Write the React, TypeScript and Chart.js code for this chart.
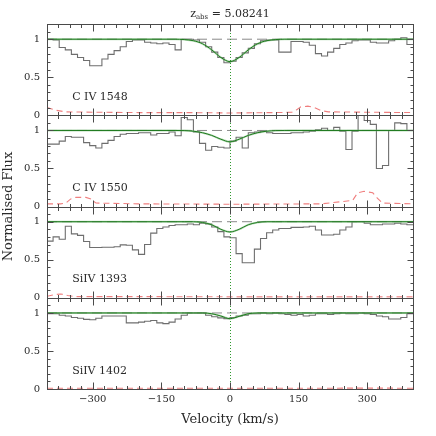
import React, { useEffect, useRef } from 'react';
import { Chart, registerables } from 'chart.js';

Chart.register(...registerables);

const Z_ABS = '5.08241';
const X_TITLE = 'Velocity (km/s)';
const Y_TITLE = 'Normalised Flux';
const X_TICKS = [-300, -150, 0, 150, 300];
const Y_TICKS = [0, 0.5, 1];
const PANEL_LABELS = ['C IV 1548', 'C IV 1550', 'SiIV 1393', 'SiIV 1402'];

// histogram bin edges (km/s)
const BIN_EDGES = [
  -400, -386.7, -373.3, -360, -346.7, -333.3, -320, -306.7, -293.3, -280,
  -266.7, -253.3, -240, -226.7, -213.3, -200, -186.7, -173.3, -160, -146.7,
  -133.3, -120, -106.7, -93.3, -80, -66.7, -53.3, -40, -26.7, -13.3,
  0, 13.3, 26.7, 40, 53.3, 66.7, 80, 93.3, 106.7, 120,
  133.3, 146.7, 160, 173.3, 186.7, 200, 213.3, 226.7, 240, 253.3,
  266.7, 280, 293.3, 306.7, 320, 333.3, 346.7, 360, 373.3, 386.7, 400,
];

const FLUX_CIV1548 = [
  1.0, 0.99, 0.89, 0.86, 0.80, 0.76, 0.72, 0.65, 0.65, 0.74,
  0.80, 0.85, 0.90, 0.97, 0.99, 0.99, 0.96, 0.95, 0.94, 0.95,
  0.93, 0.86, 1.0, 1.0, 0.99, 0.96, 0.90, 0.83, 0.76, 0.69,
  0.71, 0.76, 0.82, 0.88, 0.94, 0.98, 0.99, 0.99, 0.83, 0.83,
  0.97, 0.97, 0.96, 0.92, 0.81, 0.78, 0.83, 0.88, 0.93, 0.95,
  0.98, 0.99, 0.99, 0.96, 0.95, 0.95, 0.98, 1.0, 1.02, 0.93,
];
const FLUX_CIV1550 = [
  0.82, 0.82, 0.86, 0.92, 0.91, 0.91, 0.84, 0.80, 0.77, 0.83,
  0.87, 0.92, 0.95, 0.96, 0.96, 0.97, 0.97, 0.94, 0.96, 0.96,
  0.98, 0.93, 1.17, 1.14, 0.98, 0.83, 0.74, 0.79, 0.78, 0.77,
  0.86, 0.91, 0.77, 0.97, 0.98, 0.99, 0.97, 0.96, 0.96, 0.96,
  0.97, 0.97, 0.98, 0.99, 1.01, 1.03, 1.00, 1.04, 0.99, 0.75,
  0.99, 1.23, 1.13, 1.08, 0.50, 0.54, 1.00, 1.10, 1.09, 1.00,
];
const FLUX_SIIV1393 = [
  0.745, 0.80, 0.77, 0.94, 0.84, 0.82, 0.74, 0.66, 0.66, 0.665,
  0.665, 0.67, 0.695, 0.69, 0.63, 0.57, 0.70, 0.85, 0.91, 0.93,
  0.95, 0.96, 0.96, 0.97, 0.96, 0.98, 0.97, 0.93, 0.87, 0.80,
  0.79, 0.58, 0.46, 0.46, 0.64, 0.78, 0.855, 0.89, 0.91, 0.91,
  0.925, 0.925, 0.93, 0.94, 0.89, 0.825, 0.825, 0.835, 0.89, 0.93,
  1.0, 1.0, 0.98, 0.96, 0.96, 0.97, 0.97, 0.98, 0.97, 0.96,
];
const FLUX_SIIV1402 = [
  0.99, 0.99, 0.97, 0.96, 0.94, 0.93, 0.915, 0.91, 0.93, 0.96,
  0.96, 0.96, 0.96, 0.87, 0.87, 0.88, 0.89, 0.90, 0.87, 0.86,
  0.88, 0.92, 0.97, 1.0, 1.0, 1.0, 0.97, 0.95, 0.935, 0.925,
  0.94, 0.96, 0.97, 0.99, 0.99, 1.0, 0.99, 1.0, 0.99, 0.98,
  0.97, 0.98, 0.96, 0.97, 0.99, 0.99, 0.98, 0.99, 1.0, 0.99,
  0.99, 1.0, 0.99, 0.98, 0.96, 0.95, 0.92, 0.92, 0.94, 0.99,
];

// fitted model profiles
const MODEL_V = [-400, -120, -100, -80, -60, -40, -20, 0, 20, 40, 60, 80, 100, 120, 400];
const MODEL_CIV1548 = [1, 1, 0.995, 0.98, 0.94, 0.86, 0.76, 0.705, 0.76, 0.86, 0.94, 0.98, 0.995, 1, 1];
const MODEL_CIV1550 = [1, 1, 0.998, 0.99, 0.97, 0.935, 0.885, 0.85, 0.885, 0.935, 0.97, 0.99, 0.998, 1, 1];
const MODEL_SIIV1393 = [1, 1, 1, 1, 0.99, 0.96, 0.9, 0.865, 0.9, 0.96, 0.99, 1, 1, 1, 1];
const MODEL_SIIV1402 = [1, 1, 1, 1, 1, 0.99, 0.96, 0.925, 0.955, 0.99, 1, 1, 1, 1, 1];

// error spectra
const ERR_V_CIV1548 = [-400, -380, -360, -300, -200, -100, 0, 100, 135, 145, 155, 170, 185, 200, 215, 300, 400];
const ERR_CIV1548 = [0.10, 0.065, 0.045, 0.04, 0.035, 0.035, 0.03, 0.035, 0.04, 0.07, 0.11, 0.12, 0.10, 0.06, 0.045, 0.04, 0.035];
const ERR_V_CIV1550 = [-400, -370, -359, -348, -337, -315, -304, -293, -200, 0, 200, 268, 279, 293, 312, 322, 333, 400];
const ERR_CIV1550 = [0.035, 0.035, 0.045, 0.10, 0.12, 0.12, 0.10, 0.045, 0.035, 0.03, 0.035, 0.08, 0.18, 0.20, 0.18, 0.11, 0.045, 0.035];
const ERR_V_SIIV1393 = [-400, -385, -370, -355, -340, -200, 0, 200, 400];
const ERR_SIIV1393 = [0.02, 0.04, 0.05, 0.03, 0.015, 0.015, 0.012, 0.012, 0.012];
const ERR_V_SIIV1402 = [-400, -200, 0, 200, 300, 400];
const ERR_SIIV1402 = [0.01, 0.01, 0.01, 0.01, 0.012, 0.01];

const CONTINUUM = 1;

const PANELS = [
  { id: 'y1', label: PANEL_LABELS[0], flux: FLUX_CIV1548, model: MODEL_CIV1548, errV: ERR_V_CIV1548, err: ERR_CIV1548, weight: 4 },
  { id: 'y2', label: PANEL_LABELS[1], flux: FLUX_CIV1550, model: MODEL_CIV1550, errV: ERR_V_CIV1550, err: ERR_CIV1550, weight: 3 },
  { id: 'y3', label: PANEL_LABELS[2], flux: FLUX_SIIV1393, model: MODEL_SIIV1393, errV: ERR_V_SIIV1393, err: ERR_SIIV1393, weight: 2 },
  { id: 'y4', label: PANEL_LABELS[3], flux: FLUX_SIIV1402, model: MODEL_SIIV1402, errV: ERR_V_SIIV1402, err: ERR_SIIV1402, weight: 1 },
];

const SERIF = '"DejaVu Serif", serif';
const TEXT = '#2a2a2a';

const decorPlugin = {
  id: 'panelDecor',
  afterDatasetsDraw(chart: any) {
    const ctx = chart.ctx as CanvasRenderingContext2D;
    const xs = chart.scales.x;
    const area = chart.chartArea;
    ctx.save();
    const line = (x1: number, y1: number, x2: number, y2: number) => {
      ctx.beginPath();
      ctx.moveTo(x1, y1);
      ctx.lineTo(x2, y2);
      ctx.stroke();
    };
    // zero-velocity dotted line
    const x0 = Math.round(xs.getPixelForValue(0)) + 0.5;
    ctx.strokeStyle = '#2e9a2e';
    ctx.lineWidth = 1;
    ctx.setLineDash([1, 2]);
    line(x0, area.top, x0, area.bottom);
    ctx.setLineDash([]);

    PANELS.forEach((p) => {
      const ys = chart.scales[p.id];
      const top = Math.round(ys.top) + 0.5;
      const bottom = Math.round(ys.bottom) + 0.5;
      const left = Math.round(xs.left) + 0.5;
      const right = Math.round(xs.right) + 0.5;
      ctx.strokeStyle = '#4a4a4a';
      ctx.lineWidth = 1;
      ctx.strokeRect(left, top, right - left, bottom - top);
      for (let v = -375; v <= 375; v += 25) {
        const px = Math.round(xs.getPixelForValue(v)) + 0.5;
        const len = X_TICKS.includes(v) ? 7 : 3.5;
        line(px, top, px, top + len);
        line(px, bottom, px, bottom - len);
      }
      for (let k = 1; k <= 11; k++) {
        const py = Math.round(ys.getPixelForValue(k / 10)) + 0.5;
        const len = k === 5 || k === 10 ? 6 : 3;
        line(left, py, left + len, py);
        line(right, py, right - len, py);
      }
      ctx.fillStyle = TEXT;
      ctx.font = '11px ' + SERIF;
      ctx.textAlign = 'left';
      ctx.textBaseline = 'middle';
      ctx.fillText(p.label, xs.getPixelForValue(-345), ys.getPixelForValue(0.24));
    });

    // top title with subscript
    const cx = (area.left + area.right) / 2;
    const ty = 14;
    ctx.fillStyle = TEXT;
    ctx.textBaseline = 'middle';
    ctx.textAlign = 'left';
    const big = '11px ' + SERIF;
    const small = '7px ' + SERIF;
    ctx.font = big;
    const wz = ctx.measureText('z').width;
    const rest = ' = ' + Z_ABS;
    const wr = ctx.measureText(rest).width;
    ctx.font = small;
    const ws = ctx.measureText('abs').width;
    let sx = cx - (wz + ws + wr) / 2;
    ctx.font = big;
    ctx.fillText('z', sx, ty);
    sx += wz;
    ctx.font = small;
    ctx.fillText('abs', sx, ty + 3);
    sx += ws;
    ctx.font = big;
    ctx.fillText(rest, sx, ty);

    // axis titles
    ctx.font = '13px ' + SERIF;
    ctx.textAlign = 'center';
    ctx.fillText(X_TITLE, cx, 420);
    ctx.save();
    ctx.translate(9, (area.top + area.bottom) / 2);
    ctx.rotate(-Math.PI / 2);
    ctx.fillText(Y_TITLE, 0, 0);
    ctx.restore();
    ctx.restore();
  },
};

export default function App() {
  const ref = useRef<HTMLCanvasElement>(null);
  useEffect(() => {
    if (!ref.current) return;
    const datasets: any[] = [];
    PANELS.forEach((p) => {
      datasets.push({
        label: p.label + ' model',
        data: MODEL_V.map((x, i) => ({ x, y: p.model[i] })),
        yAxisID: p.id,
        borderColor: '#1f7a1f',
        borderWidth: 1,
        pointRadius: 0,
        cubicInterpolationMode: 'monotone',
        order: 1,
      });
      datasets.push({
        label: p.label + ' model band',
        data: MODEL_V.map((x, i) => ({ x, y: p.model[i] })),
        yAxisID: p.id,
        borderColor: 'rgba(120,190,120,0.5)',
        borderWidth: 2,
        pointRadius: 0,
        cubicInterpolationMode: 'monotone',
        order: 2,
      });
      datasets.push({
        label: p.label + ' flux',
        data: BIN_EDGES.map((x, i) => ({ x, y: p.flux[Math.min(i, p.flux.length - 1)] })),
        yAxisID: p.id,
        borderColor: '#6e6e6e',
        borderWidth: 1.1,
        pointRadius: 0,
        stepped: 'before',
        order: 3,
      });
      datasets.push({
        label: p.label + ' continuum',
        data: [{ x: BIN_EDGES[0], y: CONTINUUM }, { x: BIN_EDGES[BIN_EDGES.length - 1], y: CONTINUUM }],
        yAxisID: p.id,
        borderColor: '#8a8a8a',
        borderWidth: 1,
        borderDash: [10, 5],
        pointRadius: 0,
        order: 4,
      });
      datasets.push({
        label: p.label + ' error',
        data: p.errV.map((x, i) => ({ x, y: p.err[i] })),
        yAxisID: p.id,
        borderColor: '#f07f7f',
        borderWidth: 1.1,
        borderDash: [6, 4],
        pointRadius: 0,
        order: 5,
      });
    });

    const scales: any = {
      x: {
        type: 'linear',
        position: 'bottom',
        min: -400,
        max: 400,
        afterBuildTicks: (s: any) => {
          s.ticks = X_TICKS.map((v) => ({ value: v }));
        },
        afterFit: (s: any) => {
          s.height = 47;
        },
        grid: { display: false, drawTicks: false },
        border: { display: false },
        ticks: {
          autoSkip: false,
          maxRotation: 0,
          padding: 4,
          color: TEXT,
          font: { family: SERIF, size: 10 },
          callback: (v: any) => (v < 0 ? '\u2212' + Math.abs(v) : String(v)),
        },
      },
    };
    PANELS.forEach((p) => {
      scales[p.id] = {
        type: 'linear',
        position: 'left',
        stack: 'panels',
        stackWeight: 1,
        weight: p.weight,
        offset: false,
        min: 0,
        max: 1.2,
        afterBuildTicks: (s: any) => {
          s.ticks = Y_TICKS.map((v) => ({ value: v }));
        },
        afterFit: (s: any) => {
          s.width = 47;
        },
        grid: { display: false, drawTicks: false },
        border: { display: false },
        ticks: {
          padding: 7,
          color: TEXT,
          font: { family: SERIF, size: 10 },
          callback: (v: any) => String(v),
        },
      };
    });

    const chart = new Chart(ref.current, {
      type: 'line',
      data: { datasets },
      options: {
        animation: false,
        responsive: false,
        devicePixelRatio: 1,
        parsing: false,
        normalized: true,
        layout: { padding: { top: 24, right: 23, left: 0, bottom: 0 } },
        plugins: { legend: { display: false }, tooltip: { enabled: false }, title: { display: false } },
        scales,
      } as any,
      plugins: [decorPlugin],
    });
    return () => chart.destroy();
  }, []);

  return (
    <div style={{ position: 'fixed', left: 0, top: 0, width: 436, height: 436, background: '#fff' }}>
      <canvas ref={ref} width={436} height={436} style={{ display: 'block' }} />
    </div>
  );
}
